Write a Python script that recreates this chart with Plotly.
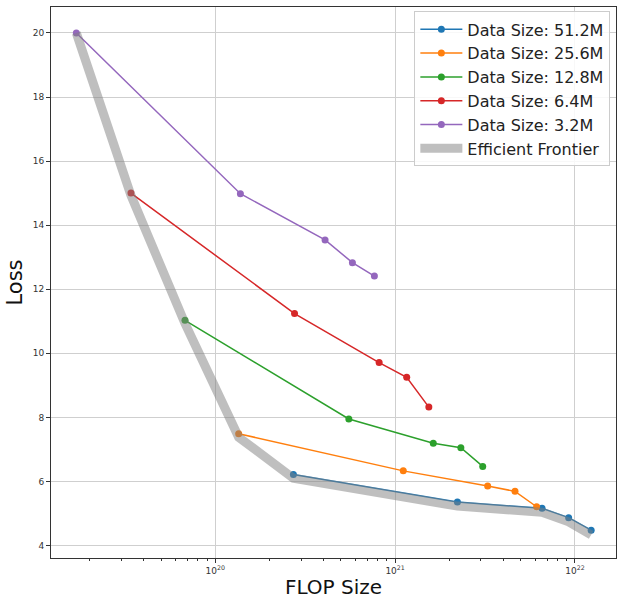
import plotly.graph_objects as go

# FLOP budgets and resulting loss for each training-data size
flops_51_2m = [2.72e20, 2.22e21, 6.56e21, 9.22e21, 1.23e22]
loss_51_2m = [6.22, 5.36, 5.16, 4.87, 4.48]

flops_25_6m = [1.35e20, 1.11e21, 3.27e21, 4.64e21, 6.12e21]
loss_25_6m = [7.49, 6.33, 5.86, 5.69, 5.21]

flops_12_8m = [6.79e19, 5.53e20, 1.63e21, 2.32e21, 3.07e21]
loss_12_8m = [11.03, 7.95, 7.19, 7.05, 6.47]

flops_6_4m = [3.40e19, 2.76e20, 8.15e20, 1.16e21, 1.54e21]
loss_6_4m = [15.0, 11.24, 9.71, 9.25, 8.32]

flops_3_2m = [1.69e19, 1.38e20, 4.08e20, 5.79e20, 7.67e20]
loss_3_2m = [20.0, 14.98, 13.54, 12.83, 12.41]

# Lower envelope across all data sizes
frontier_flops = [1.69e19, 3.40e19, 6.79e19, 1.35e20, 2.72e20, 2.22e21, 6.56e21, 9.22e21, 1.23e22]
frontier_loss = [20.0, 14.93, 10.93, 7.38, 6.10, 5.23, 5.04, 4.74, 4.33]

series_names = ["Data Size: 51.2M", "Data Size: 25.6M", "Data Size: 12.8M",
                "Data Size: 6.4M", "Data Size: 3.2M"]
series_colors = ["#1f77b4", "#ff7f0e", "#2ca02c", "#d62728", "#9467bd"]
series_x = [flops_51_2m, flops_25_6m, flops_12_8m, flops_6_4m, flops_3_2m]
series_y = [loss_51_2m, loss_25_6m, loss_12_8m, loss_6_4m, loss_3_2m]

x_tick_vals = [1e20, 1e21, 1e22]
x_tick_text = ["10<sup>20</sup>", "10<sup>21</sup>", "10<sup>22</sup>"]
y_tick_vals = [4, 6, 8, 10, 12, 14, 16, 18, 20]

fig = go.Figure()
for name, color, xs, ys in zip(series_names, series_colors, series_x, series_y):
    fig.add_trace(go.Scatter(
        x=xs, y=ys, name=name, mode="lines+markers",
        line=dict(color=color, width=1.5),
        marker=dict(color=color, size=7),
    ))

fig.add_trace(go.Scatter(
    x=frontier_flops, y=frontier_loss, name="Efficient Frontier", mode="lines",
    line=dict(color="rgba(128,128,128,0.5)", width=9),
))

minor_vals = [float(m) * 10.0 ** e for e in (19, 20, 21, 22) for m in range(2, 10)]

fig.update_layout(
    width=617, height=599,
    margin=dict(l=51, r=1, t=7, b=41),
    paper_bgcolor="white", plot_bgcolor="white",
    font=dict(family="DejaVu Sans", color="#222"),
    showlegend=True,
    legend=dict(
        x=0.99, y=0.992, xanchor="right", yanchor="top",
        bgcolor="rgba(255,255,255,0.85)", bordercolor="#cccccc", borderwidth=1,
        font=dict(size=16, color="#222"), itemwidth=42,
    ),
)

fig.update_xaxes(
    type="log", range=[19.087, 22.228],
    tickvals=x_tick_vals, ticktext=x_tick_text,
    ticks="outside", ticklen=4, tickcolor="#333",
    tickfont=dict(size=9, color="#333"),
    showgrid=True, gridcolor="#cfcfcf", gridwidth=1,
    minor=dict(tickvals=minor_vals, ticks="outside", ticklen=2, tickcolor="#333", showgrid=False),
    showline=True, linecolor="#333", linewidth=1, mirror=True,
    zeroline=False,
    title=dict(text="FLOP Size", font=dict(size=20, color="#111"), standoff=6),
)
fig.update_yaxes(
    range=[3.61, 20.81],
    tickvals=y_tick_vals,
    ticks="outside", ticklen=4, tickcolor="#333",
    tickfont=dict(size=9, color="#333"),
    showgrid=True, gridcolor="#cfcfcf", gridwidth=1,
    showline=True, linecolor="#333", linewidth=1, mirror=True,
    zeroline=False,
    title=dict(text="Loss", font=dict(size=21, color="#111"), standoff=4),
)

fig.write_html("out.html")
